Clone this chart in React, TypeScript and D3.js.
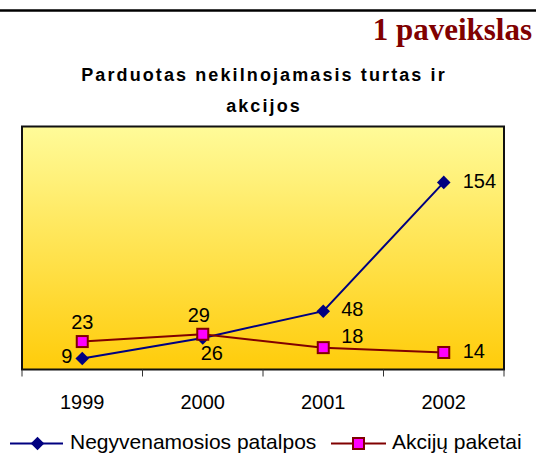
import { useRef, useEffect } from 'react';
import * as d3 from 'd3';

// chart data
const years = ['1999', '2000', '2001', '2002'];
const patalpos = [9, 26, 48, 154];
const akcijos = [23, 29, 18, 14];
const seriesNames = ['Negyvenamosios patalpos', 'Akcijų paketai'];

// where each value label sits relative to its point
const patalposLabelPos = [
  { dx: -10, dy: 4, anchor: 'end' },
  { dx: -2, dy: 22, anchor: 'start' },
  { dx: 18, dy: 5, anchor: 'start' },
  { dx: 19, dy: 6, anchor: 'start' },
];
const akcijosLabelPos = [
  { dx: 0, dy: -13, anchor: 'middle' },
  { dx: -4, dy: -12, anchor: 'middle' },
  { dx: 18, dy: -5, anchor: 'start' },
  { dx: 19, dy: 6, anchor: 'start' },
];

const BLUE = '#000080';
const RED = '#800000';
const MAGENTA = '#FF00FF';

const App = () => {
  const svgRef = useRef<SVGSVGElement>(null);

  useEffect(() => {
    const svg = d3.select(svgRef.current);
    svg.selectAll('*').remove();
    const width = 536;
    const plot = { left: 22, right: 504, top: 126.5, bottom: 369.5 };

    // top rule + figure caption
    svg.append('line')
      .attr('x1', 0).attr('x2', width)
      .attr('y1', 10.5).attr('y2', 10.5)
      .attr('stroke', '#000').attr('stroke-width', 2.5);

    svg.append('text')
      .attr('x', 532).attr('y', 40)
      .attr('text-anchor', 'end')
      .attr('font-family', '"Liberation Serif", "Times New Roman", serif')
      .attr('font-weight', 'bold')
      .attr('font-size', 31)
      .attr('fill', RED)
      .text('1 paveikslas');

    const title = svg.append('text')
      .attr('text-anchor', 'middle')
      .attr('font-family', '"Liberation Sans", Arial, sans-serif')
      .attr('font-weight', 'bold')
      .attr('font-size', 18)
      .attr('letter-spacing', 2.1)
      .attr('fill', '#000');
    title.append('tspan').attr('x', 264).attr('y', 81).text('Parduotas nekilnojamasis turtas ir');
    title.append('tspan').attr('x', 264).attr('y', 112).text('akcijos');

    // plot background
    const defs = svg.append('defs');
    const grad = defs.append('linearGradient')
      .attr('id', 'bg').attr('x1', 0).attr('x2', 0).attr('y1', 0).attr('y2', 1);
    grad.append('stop').attr('offset', '0%').attr('stop-color', '#FFFB99');
    grad.append('stop').attr('offset', '100%').attr('stop-color', '#FFCC0A');

    svg.append('rect')
      .attr('x', plot.left).attr('y', plot.top)
      .attr('width', plot.right - plot.left)
      .attr('height', plot.bottom - plot.top)
      .attr('fill', 'url(#bg)')
      .attr('stroke', '#111').attr('stroke-width', 2);

    const x = d3.scaleBand()
      .domain(years)
      .range([plot.left, plot.right]);

    const y = d3.scaleLinear()
      .domain([0, 200])
      .range([plot.bottom, plot.top]);

    const cx = (i: number) => (x(years[i]) as number) + x.bandwidth() / 2;

    // category ticks on the boundaries, labels centred
    const bounds = years.map(d => x(d) as number).concat([plot.right]);
    svg.append('g').selectAll('line')
      .data(bounds)
      .join('line')
      .attr('x1', d => d).attr('x2', d => d)
      .attr('y1', plot.bottom).attr('y2', plot.bottom + 7)
      .attr('stroke', '#333').attr('stroke-width', 1);

    svg.append('g').selectAll('text')
      .data(years)
      .join('text')
      .attr('x', (d, i) => cx(i))
      .attr('y', 409)
      .attr('text-anchor', 'middle')
      .attr('font-family', '"Liberation Sans", Arial, sans-serif')
      .attr('font-size', 20)
      .text(d => d);

    const line = d3.line<number>()
      .x((d, i) => cx(i))
      .y(d => y(d));

    const labelFont = (sel: any) => sel
      .attr('font-family', '"Liberation Sans", Arial, sans-serif')
      .attr('font-size', 20)
      .attr('fill', '#000');

    // series 1: blue diamonds
    svg.append('path')
      .datum(patalpos)
      .attr('d', line)
      .attr('fill', 'none')
      .attr('stroke', BLUE).attr('stroke-width', 2);

    const diamond = d3.symbol().type(d3.symbolSquare).size(92);

    svg.append('g').selectAll('path')
      .data(patalpos)
      .join('path')
      .attr('d', diamond)
      .attr('transform', (d, i) => `translate(${cx(i)},${y(d)}) rotate(45)`)
      .attr('fill', BLUE);

    // series 2: magenta squares
    svg.append('path')
      .datum(akcijos)
      .attr('d', line)
      .attr('fill', 'none')
      .attr('stroke', RED).attr('stroke-width', 2);

    svg.append('g').selectAll('rect')
      .data(akcijos)
      .join('rect')
      .attr('x', (d, i) => cx(i) - 5.5)
      .attr('y', d => y(d) - 5.5)
      .attr('width', 11).attr('height', 11)
      .attr('fill', MAGENTA)
      .attr('stroke', RED).attr('stroke-width', 2);

    // value labels
    svg.append('g').selectAll('text')
      .data(patalpos)
      .join('text')
      .attr('x', (d, i) => cx(i) + patalposLabelPos[i].dx)
      .attr('y', (d, i) => y(d) + patalposLabelPos[i].dy)
      .attr('text-anchor', (d, i) => patalposLabelPos[i].anchor)
      .call(labelFont)
      .text(d => d);

    svg.append('g').selectAll('text')
      .data(akcijos)
      .join('text')
      .attr('x', (d, i) => cx(i) + akcijosLabelPos[i].dx)
      .attr('y', (d, i) => y(d) + akcijosLabelPos[i].dy)
      .attr('text-anchor', (d, i) => akcijosLabelPos[i].anchor)
      .call(labelFont)
      .text(d => d);

    // legend
    const legY = 443.5;
    const leg = svg.append('g');
    leg.append('line')
      .attr('x1', 10).attr('x2', 63).attr('y1', legY).attr('y2', legY)
      .attr('stroke', BLUE).attr('stroke-width', 2);
    leg.append('path')
      .attr('d', diamond)
      .attr('transform', `translate(37.5,${legY}) rotate(45)`)
      .attr('fill', BLUE);
    leg.append('text')
      .attr('x', 70).attr('y', legY + 5.5)
      .call(labelFont)
      .attr('font-size', 21)
      .text(seriesNames[0]);

    leg.append('line')
      .attr('x1', 331).attr('x2', 386).attr('y1', legY).attr('y2', legY)
      .attr('stroke', RED).attr('stroke-width', 2);
    leg.append('rect')
      .attr('x', 358.5 - 5.5).attr('y', legY - 5.5)
      .attr('width', 11).attr('height', 11)
      .attr('fill', MAGENTA)
      .attr('stroke', RED).attr('stroke-width', 2);
    leg.append('text')
      .attr('x', 392).attr('y', legY + 5.5)
      .call(labelFont)
      .attr('font-size', 21)
      .text(seriesNames[1]);
  }, []);

  return (
    <svg
      ref={svgRef}
      width="536"
      height="453"
      style={{ position: 'absolute', left: 0, top: 0, background: '#fff' }}
    ></svg>
  );
};

export default App;
